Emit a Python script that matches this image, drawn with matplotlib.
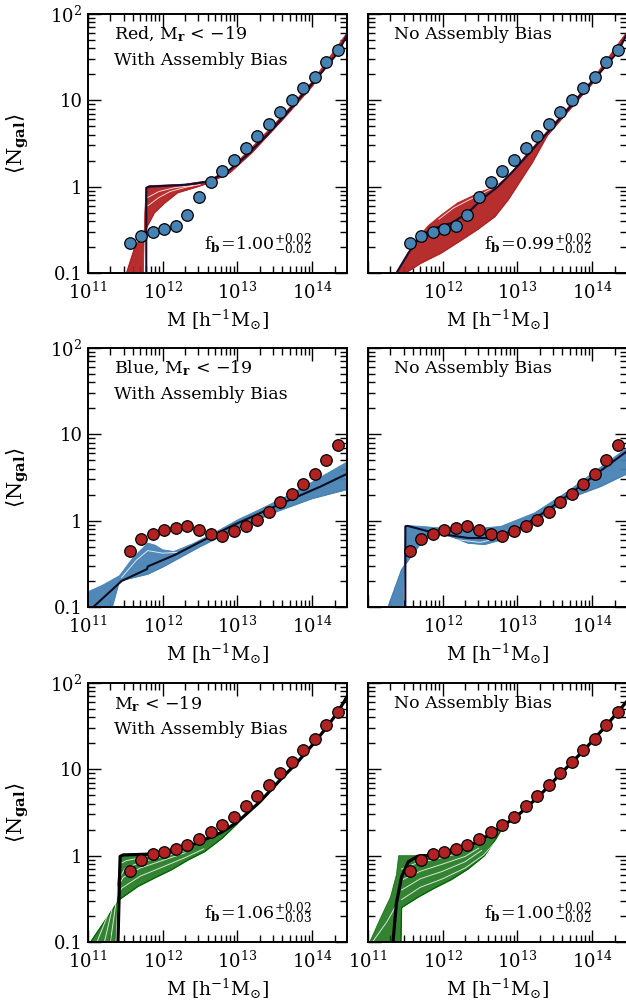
import numpy as np
import matplotlib.pyplot as plt
from matplotlib.ticker import FixedLocator, FixedFormatter, LogLocator, NullFormatter

plt.rcParams['font.family'] = 'DejaVu Serif'
plt.rcParams['mathtext.fontset'] = 'dejavuserif'

# log10 halo mass of the measured points (same bins in every panel)
logm_pts = [11.56, 11.71, 11.87, 12.02, 12.18, 12.33, 12.49, 12.64, 12.80, 12.95,
            13.11, 13.26, 13.42, 13.57, 13.73, 13.88, 14.04, 14.19, 14.35]
ngal_red = [0.22, 0.27, 0.30, 0.32, 0.35, 0.47, 0.75, 1.12, 1.53, 2.03,
            2.84, 3.9, 5.35, 7.4, 10.1, 14.0, 18.8, 27.9, 38.0]
ngal_blue = [0.44, 0.61, 0.70, 0.77, 0.83, 0.87, 0.78, 0.70, 0.67, 0.75,
             0.87, 1.03, 1.27, 1.63, 2.03, 2.68, 3.43, 5.07, 7.6]
ngal_all = [0.67, 0.89, 1.04, 1.10, 1.19, 1.33, 1.56, 1.86, 2.26, 2.82,
            3.78, 4.92, 6.65, 8.97, 12.3, 16.9, 22.6, 32.8, 46.3]

# best fit curves and the envelope of the sampled models, per panel
# red, with assembly bias
red_ab_x = [11.78, 11.78, 11.82, 12.0, 12.3, 12.47, 12.61, 12.87, 13.1, 13.4, 13.7, 14.0, 14.2, 14.35, 14.47]
red_ab_y = [0.09, 0.97, 1.0, 1.02, 1.05, 1.1, 1.15, 1.5, 2.2, 4.0, 7.8, 15.5, 25, 36, 58]
red_ab_up_x = [11.74, 11.76, 11.78, 11.82, 12.0, 12.3, 12.6, 12.9, 13.2, 13.6, 14.0, 14.47]
red_ab_up_y = [0.09, 0.5, 0.98, 1.03, 1.04, 1.07, 1.17, 1.6, 2.9, 6.6, 16.5, 61]
red_ab_lo_x = [11.5, 11.62, 11.74, 11.78, 11.89, 12.03, 12.2, 12.47, 12.61, 12.9, 13.2, 13.6, 14.0, 14.47]
red_ab_lo_y = [0.09, 0.19, 0.29, 0.33, 0.5, 0.65, 0.85, 1.0, 1.1, 1.45, 2.5, 5.9, 14.5, 55]

# red, no assembly bias
red_no_x = [11.38, 11.54, 11.71, 11.89, 12.12, 12.34, 12.52, 12.74, 12.96, 13.12, 13.4, 13.7, 14.0, 14.2, 14.35, 14.47]
red_no_y = [0.1, 0.17, 0.27, 0.33, 0.38, 0.5, 0.71, 1.0, 1.57, 2.24, 4.2, 8.3, 16.5, 26, 37, 60]
red_no_up_x = [11.36, 11.58, 11.8, 11.98, 12.2, 12.34, 12.52, 12.7, 12.87, 13.1, 13.4, 13.7, 14.0, 14.47]
red_no_up_y = [0.09, 0.2, 0.35, 0.47, 0.65, 0.74, 0.88, 1.0, 1.3, 2.25, 4.4, 8.7, 17.2, 63]
red_no_lo_x = [11.42, 11.71, 11.98, 12.25, 12.47, 12.7, 12.88, 13.05, 13.2, 13.4, 13.7, 14.0, 14.47]
red_no_lo_y = [0.09, 0.13, 0.17, 0.24, 0.32, 0.45, 0.71, 1.2, 1.9, 3.9, 7.8, 15.5, 57]

# blue, with assembly bias
blue_ab_x = [11.0, 11.07, 11.45, 11.79, 11.8, 12.16, 12.65, 12.96, 13.5, 14.12, 14.47]
blue_ab_y = [0.085, 0.1, 0.2, 0.275, 0.295, 0.4, 0.66, 0.9, 1.46, 2.5, 3.5]
blue_ab_up_x = [11.0, 11.2, 11.42, 11.6, 11.8, 11.9, 12.0, 12.15, 12.4, 12.7, 13.0, 13.3, 13.7, 14.0, 14.47]
blue_ab_up_y = [0.15, 0.18, 0.23, 0.37, 0.55, 0.52, 0.46, 0.44, 0.54, 0.73, 1.02, 1.35, 2.0, 2.8, 4.8]
blue_ab_lo_x = [11.0, 11.31, 11.42, 11.8, 12.0, 12.5, 13.0, 13.5, 14.0, 14.47]
blue_ab_lo_y = [0.09, 0.09, 0.2, 0.24, 0.29, 0.5, 0.82, 1.25, 1.8, 2.3]

# blue, no assembly bias
blue_no_x = [11.5, 11.5, 11.53, 11.89, 12.34, 12.65, 13.0, 13.41, 13.9, 14.2, 14.47]
blue_no_y = [0.09, 0.86, 0.87, 0.72, 0.63, 0.63, 0.79, 1.34, 2.73, 4.3, 6.4]
blue_no_up_x = [11.47, 11.5, 11.7, 12.0, 12.4, 12.78, 13.23, 13.68, 14.12, 14.47]
blue_no_up_y = [0.09, 0.88, 0.86, 0.82, 0.8, 0.86, 1.23, 2.2, 4.2, 7.0]
blue_no_lo_x = [11.25, 11.45, 11.58, 11.71, 11.89, 12.1, 12.34, 12.56, 12.78, 13.23, 13.68, 14.12, 14.47]
blue_no_lo_y = [0.09, 0.27, 0.39, 0.55, 0.72, 0.66, 0.55, 0.53, 0.6, 0.97, 1.8, 2.5, 3.5]

# all galaxies, with assembly bias
all_ab_x = [11.40, 11.43, 11.47, 11.8, 12.0, 12.34, 12.78, 13.0, 13.3, 13.6, 13.8, 14.0, 14.2, 14.35, 14.47]
all_ab_y = [0.09, 0.98, 1.02, 1.04, 1.1, 1.27, 1.85, 2.45, 4.2, 8.0, 12, 19, 31, 47, 70]
all_ab_up_x = [11.36, 11.40, 11.43, 11.8, 12.0, 12.34, 12.6, 12.8, 13.0]
all_ab_up_y = [0.09, 0.5, 1.0, 1.05, 1.11, 1.29, 1.6, 1.9, 2.5]
all_ab_lo_x = [11.0, 11.27, 11.42, 11.67, 11.89, 12.11, 12.34, 12.56, 12.8, 13.0]
all_ab_lo_y = [0.09, 0.2, 0.31, 0.44, 0.55, 0.68, 0.89, 1.11, 1.6, 2.35]

# all galaxies, no assembly bias
all_no_x = [11.33, 11.38, 11.45, 11.54, 11.67, 11.9, 12.34, 12.6, 12.8, 13.0, 13.3, 13.6, 13.9, 14.2, 14.47]
all_no_y = [0.09, 0.28, 0.57, 0.85, 0.99, 1.02, 1.27, 1.7, 2.2, 2.9, 5.0, 9.3, 17, 33, 62]
all_no_up_x = [11.0, 11.18, 11.3, 11.38, 11.41, 11.67, 11.9, 12.34, 12.6, 12.8]
all_no_up_y = [0.09, 0.2, 0.33, 0.6, 1.0, 1.0, 1.04, 1.29, 1.72, 2.25]
all_no_lo_x = [11.44, 11.45, 11.67, 11.89, 12.12, 12.34, 12.56, 12.7, 12.8]
all_no_lo_y = [0.09, 0.25, 0.33, 0.42, 0.53, 0.7, 1.0, 1.5, 2.1]

# a few individual model curves inside the bands (the gaps between them show white)
gap_lines = {
    0: [([11.8, 11.95, 12.1, 12.3, 12.5], [0.6, 0.75, 0.88, 0.98, 1.06]),
        ([11.8, 11.95, 12.15, 12.4], [0.75, 0.88, 0.97, 1.03])],
    1: [([11.95, 12.15, 12.35, 12.55, 12.75], [0.42, 0.57, 0.7, 0.85, 1.05])],
    2: [([11.45, 11.65, 11.8, 12.0, 12.2], [0.22, 0.35, 0.45, 0.42, 0.43])],
    3: [([11.9, 12.2, 12.5, 12.8], [0.68, 0.6, 0.56, 0.64])],
    4: [([11.12, 11.32, 11.45, 11.7, 12.0, 12.3, 12.55], [0.1, 0.27, 0.42, 0.58, 0.74, 0.95, 1.2]),
        ([11.22, 11.38, 11.47, 11.7, 12.0, 12.3], [0.1, 0.4, 0.56, 0.72, 0.88, 1.08]),
        ([11.3, 11.42, 11.5, 11.75, 12.05, 12.3], [0.1, 0.55, 0.72, 0.86, 1.0, 1.15]),
        ([11.42, 11.52, 11.8, 12.1], [0.8, 0.88, 0.98, 1.08])],
    5: [([11.45, 11.7, 12.0, 12.3, 12.55, 12.72], [0.31, 0.43, 0.54, 0.72, 1.02, 1.5]),
        ([11.45, 11.7, 12.0, 12.3, 12.52], [0.4, 0.54, 0.66, 0.85, 1.15]),
        ([11.45, 11.7, 12.0, 12.3, 12.48], [0.52, 0.66, 0.8, 0.98, 1.22]),
        ([11.45, 11.65, 11.95, 12.25], [0.7, 0.82, 0.93, 1.08]),
        ([11.06, 11.25, 11.36], [0.1, 0.17, 0.25])],
}

fb_text = [r'1.00^{+0.02}_{-0.02}', r'0.99^{+0.02}_{-0.02}', None, None,
           r'1.06^{+0.02}_{-0.03}', r'1.00^{+0.02}_{-0.02}']

RED = '#b22222'
BLUE = '#4682b4'
GREEN = '#006400'

fig = plt.figure(figsize=(6.26, 10.01), dpi=100)
W = 259 / 626
H = 259 / 1001
lefts = [88 / 626, 368 / 626]
bottoms = [1 - 273 / 1001, 1 - 607 / 1001, 1 - 942 / 1001]

panels = [
    (red_ab_x, red_ab_y, red_ab_up_x, red_ab_up_y, red_ab_lo_x, red_ab_lo_y, RED, ngal_red, BLUE, '#150d30', 1.5),
    (red_no_x, red_no_y, red_no_up_x, red_no_up_y, red_no_lo_x, red_no_lo_y, RED, ngal_red, BLUE, '#150d30', 1.5),
    (blue_ab_x, blue_ab_y, blue_ab_up_x, blue_ab_up_y, blue_ab_lo_x, blue_ab_lo_y, BLUE, ngal_blue, RED, '#0d0d20', 1.5),
    (blue_no_x, blue_no_y, blue_no_up_x, blue_no_up_y, blue_no_lo_x, blue_no_lo_y, BLUE, ngal_blue, RED, '#0d0d30', 1.5),
    (all_ab_x, all_ab_y, all_ab_up_x, all_ab_up_y, all_ab_lo_x, all_ab_lo_y, GREEN, ngal_all, RED, 'black', 2.3),
    (all_no_x, all_no_y, all_no_up_x, all_no_up_y, all_no_lo_x, all_no_lo_y, GREEN, ngal_all, RED, 'black', 2.3),
]
titles = ['Red, M$_{\\mathbf{r}}$ < $-$19', 'Blue, M$_{\\mathbf{r}}$ < $-$19', 'M$_{\\mathbf{r}}$ < $-$19']

for k, (bx, by, ux, uy, lx, ly, bandcol, pts, ptcol, linecol, lw) in enumerate(panels):
    row, col = k // 2, k % 2
    ax = fig.add_axes([lefts[col], bottoms[row], W, H])
    ax.set_xscale('log')
    ax.set_yscale('log')
    ax.set_xlim(1e11, 10 ** 14.467)
    ax.set_ylim(0.1, 100)

    px = np.r_[10.0 ** np.array(ux), 10.0 ** np.array(lx)[::-1]]
    py = np.r_[np.array(uy), np.array(ly)[::-1]]
    alpha = 0.8 if bandcol == GREEN else 0.95
    ax.fill(px, py, color=bandcol, alpha=alpha, lw=0.6, zorder=2)
    ax.plot(10.0 ** np.array(lx), ly, color=bandcol, lw=0.9, zorder=2)
    for gx, gy in gap_lines.get(k, []):
        ax.plot(10.0 ** np.array(gx), gy, color='white', lw=0.7, alpha=0.8, zorder=2)
    ax.plot(10.0 ** np.array(bx), by, color=linecol, lw=lw, zorder=3)
    ax.plot(10.0 ** np.array(logm_pts), pts, 'o', ms=8.3, mfc=ptcol, mec='black',
            mew=0.9, zorder=4, clip_on=False)

    ax.xaxis.set_major_locator(FixedLocator([1e11, 1e12, 1e13, 1e14]))
    if col == 0 or row == 2:
        xl = [r'$10^{11}$', r'$10^{12}$', r'$10^{13}$', r'$10^{14}$']
    else:
        xl = ['', r'$10^{12}$', r'$10^{13}$', r'$10^{14}$']
    ax.xaxis.set_major_formatter(FixedFormatter(xl))
    ax.xaxis.set_minor_locator(LogLocator(base=10, subs=np.arange(2, 10), numticks=20))
    ax.xaxis.set_minor_formatter(NullFormatter())
    ax.yaxis.set_major_locator(FixedLocator([0.1, 1, 10, 100]))
    if col == 0:
        ax.yaxis.set_major_formatter(FixedFormatter(['0.1', '1', '10', r'$10^2$']))
    else:
        ax.yaxis.set_major_formatter(FixedFormatter(['', '', '', '']))
    ax.yaxis.set_minor_locator(LogLocator(base=10, subs=np.arange(2, 10), numticks=20))
    ax.yaxis.set_minor_formatter(NullFormatter())
    ax.tick_params(which='both', direction='in', top=True, right=True, labelsize=13, width=1.0)
    ax.tick_params(which='major', length=9, pad=6)
    ax.tick_params(axis='y', which='major', pad=4)
    ax.tick_params(which='minor', length=5)
    for s in ax.spines.values():
        s.set_linewidth(1.4)

    if col == 0:
        ax.text(0.1, 0.92, titles[row], transform=ax.transAxes, fontsize=12.5, va='center')
        ax.text(0.1, 0.82, 'With Assembly Bias', transform=ax.transAxes, fontsize=12.5, va='center')
        fig.text(18 / 626, bottoms[row] + H / 2, r'$\langle \mathrm{N}_{\mathbf{gal}} \rangle$',
                 rotation=90, ha='center', va='center', fontsize=15)
    else:
        ax.text(0.1, 0.92, 'No Assembly Bias', transform=ax.transAxes, fontsize=12.5, va='center')
    if fb_text[k] is not None:
        ax.text(0.865, 0.108, r'$\mathrm{f}_{\mathbf{b}}\!=\!' + fb_text[k] + '$',
                transform=ax.transAxes, fontsize=12.5, ha='right', va='center')
    fig.text(lefts[col] + W / 2, bottoms[row] - 47 / 1001, r'M [h$^{-1}$M$_{\odot}$]',
             ha='center', va='center', fontsize=13.5)

fig.savefig('out.png', dpi=100)
